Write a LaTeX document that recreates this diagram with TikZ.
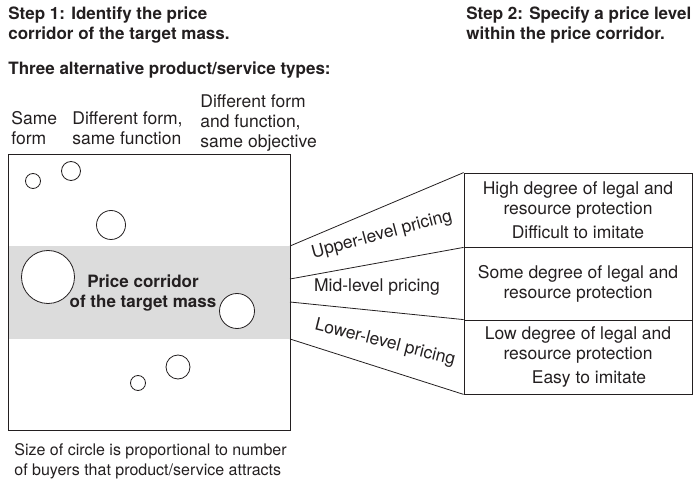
\documentclass[tikz,border=0pt]{standalone}
\usepackage{fontspec}
\setmainfont{TeX Gyre Heros}
\definecolor{corridor}{HTML}{DCDCDC}
\definecolor{ink}{HTML}{231F20}
\tikzset{
  heading/.style={anchor=west, inner sep=0pt, align=left, font=\fontsize{17}{20}\selectfont\bfseries},
  plain/.style={anchor=west, inner sep=0pt, align=left},
  protbox/.style={draw, minimum width=228, inner sep=0pt, align=center},
  bubble/.style={draw, fill=white},
}

\begin{document}
\begin{tikzpicture}[x=1pt, y=-1pt, font=\fontsize{17.5}{20}\selectfont, line width=0.8pt, color=ink]
\useasboundingbox (0,0) rectangle (699,486);
%Headings
\node (step1) [heading] at (8,25) {Step 1: Identify the price\\corridor of the target mass.};
\node (step2) [heading] at (466,25) {Step 2: Specify a price level\\within the price corridor.};
\node (types) [heading] at (8,70) {Three alternative product/service types:};
\node (same) [plain] at (11,128) {Same\\form};
\node (samefn) [plain] at (72,128) {Different form,\\same function};
\node (sameobj) [plain] at (200,123) {Different form\\and function,\\same objective};
%Frame and corridor
\fill [corridor] (8,246) rectangle (290,339);
\draw (8,154) rectangle (290,430);
\node (pc) [align=center, inner sep=0pt, font=\fontsize{17}{20}\selectfont\bfseries] at (143,293) {Price corridor\\of the target mass};
%Circles
\draw [bubble] (33,181) circle (7.5pt);
\draw [bubble] (71,171) circle (9.5pt);
\draw [bubble] (111,225) circle (14.5pt);
\draw [bubble] (48,277) circle (26.5pt);
\draw [bubble] (237,311) circle (17.5pt);
\draw [bubble] (178,367) circle (12pt);
\draw [bubble] (138,383) circle (7.5pt);
%Protection boxes
\node (high) [protbox, minimum height=74] at (578,210) {High degree of legal and\\resource protection\\[4pt]Difficult to imitate};
\node (mid) [protbox, minimum height=73] at (578,283.5) {Some degree of legal and\\resource protection};
\node (low) [protbox, minimum height=74] at (578,357) {Low degree of legal and\\resource protection\\[4pt]\hspace*{22pt}Easy to imitate};
%Fan
\coordinate (f1) at (290,246);
\coordinate (f2) at (290,279);
\coordinate (f3) at (290,302);
\coordinate (f4) at (290,339);
\draw (f1) -- (high.north west);
\draw (f2) -- (high.south west);
\draw (f3) -- (low.north west);
\draw (f4) -- (low.south west);
\node (upper) [rotate=15, inner sep=0pt] at (382,235) {Upper-level pricing};
\node (midp) [inner sep=0pt] at (377,287) {Mid-level pricing};
\node (lower) [rotate=-14, inner sep=0pt] at (385,343) {Lower-level pricing};
%Note
\node (note) [plain, font=\fontsize{16}{20}\selectfont] at (14,461) {Size of circle is proportional to number\\of buyers that product/service attracts};
\end{tikzpicture}
\end{document}
